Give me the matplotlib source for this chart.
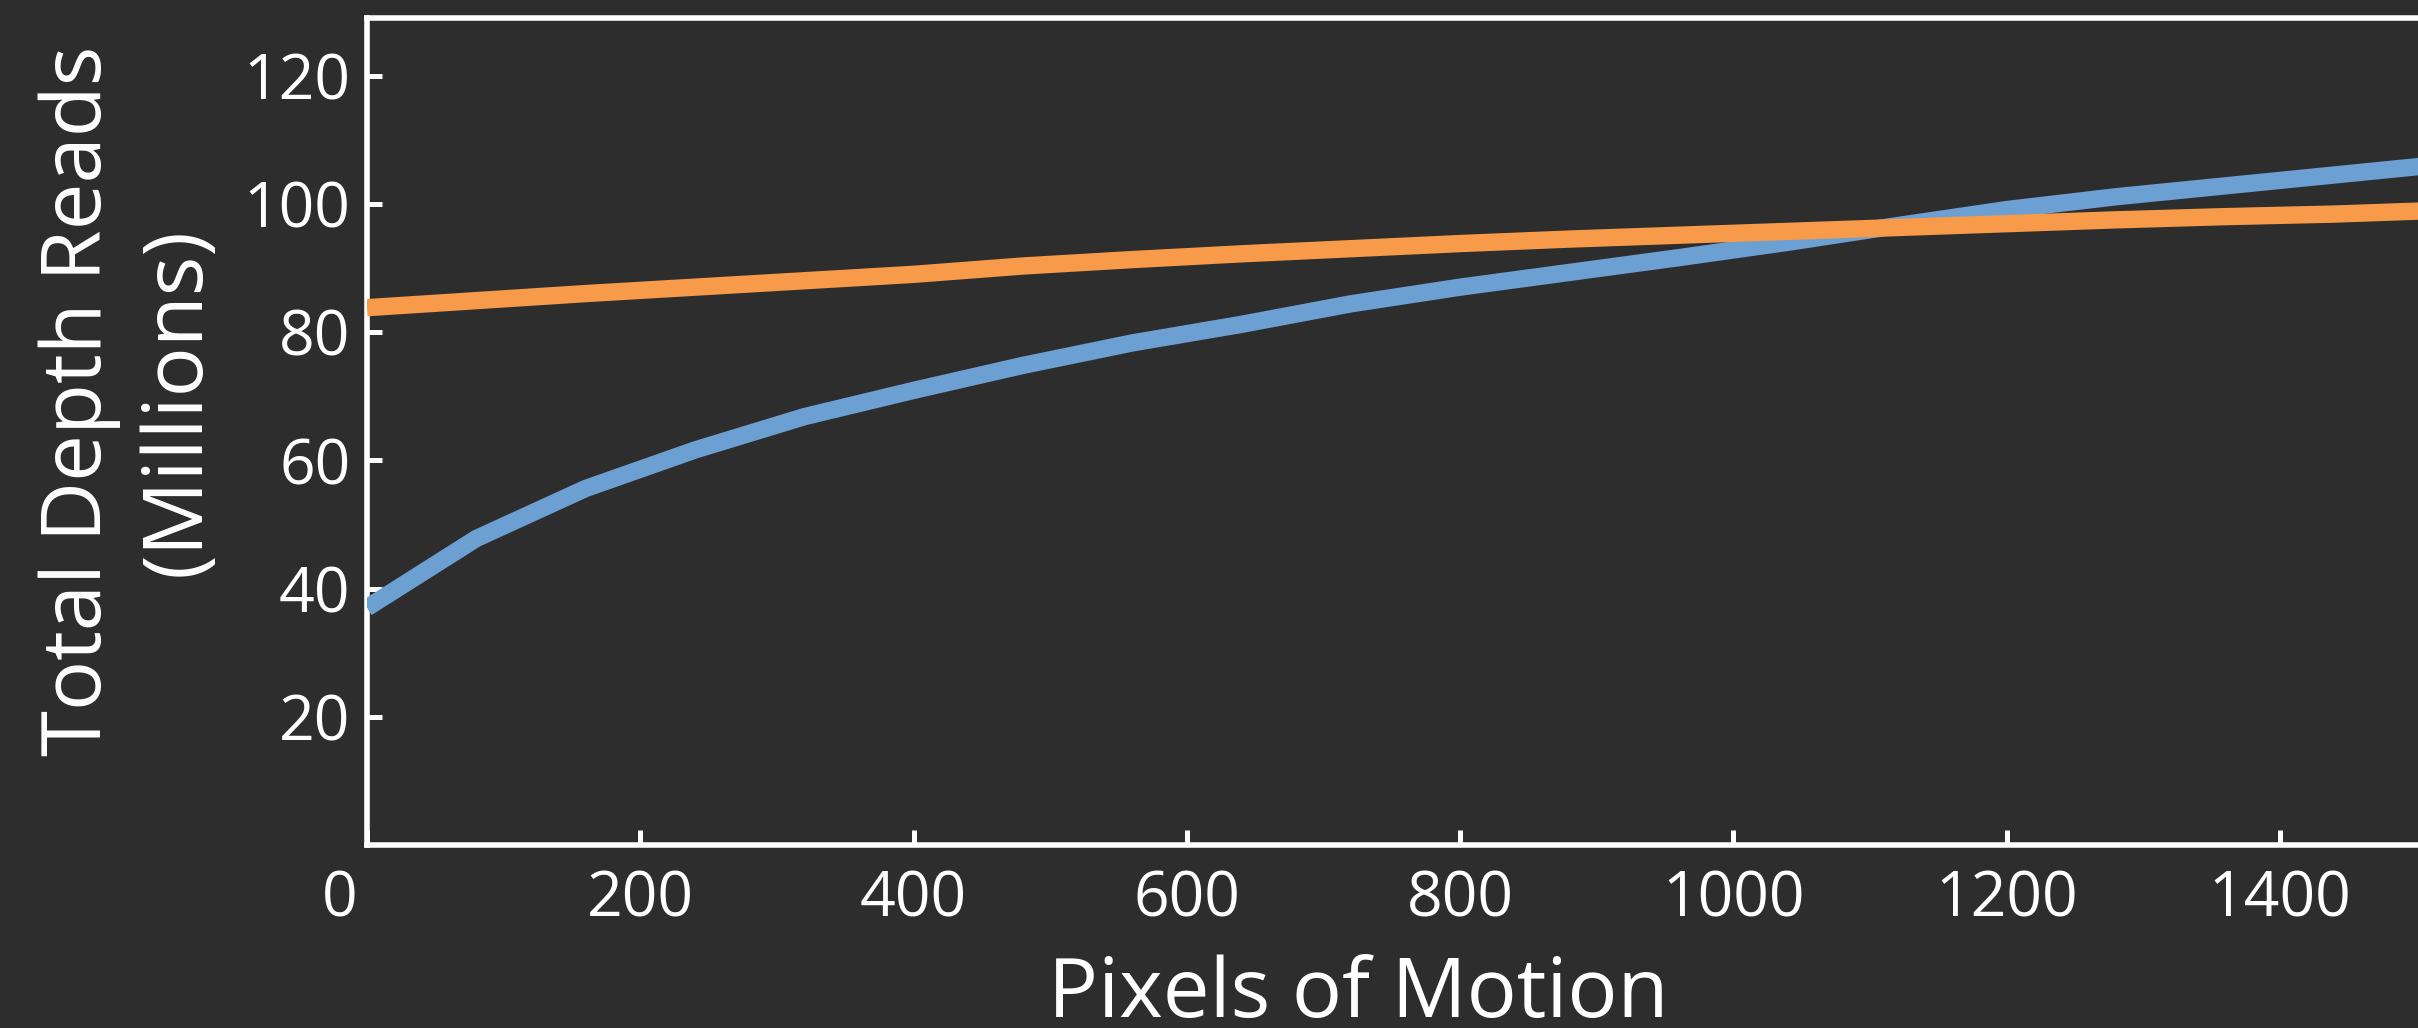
import matplotlib
matplotlib.use("Agg")
import matplotlib.pyplot as plt
from matplotlib.transforms import ScaledTranslation

# data
motion_px = [0, 80, 160, 240, 320, 400, 480, 560, 640, 720, 800, 880, 960,
             1040, 1120, 1200, 1280, 1360, 1440, 1520]
reads_blue = [37.0, 47.8, 55.6, 61.6, 66.8, 70.9, 74.8, 78.3, 81.2, 84.4, 87.0,
              89.3, 91.6, 94.0, 96.6, 99.1, 101.1, 102.8, 104.5, 106.2]
reads_orange = [83.8, 84.9, 86.0, 87.0, 88.0, 89.0, 90.3, 91.3, 92.2, 93.0, 93.8,
                94.5, 95.1, 95.7, 96.3, 96.9, 97.5, 98.0, 98.4, 99.0]
x_ticks = [0, 200, 400, 600, 800, 1000, 1200, 1400]
y_ticks = [20, 40, 60, 80, 100, 120]

BG = "#2d2d2d"
FG = "#ffffff"
BLUE = "#6c9fd2"
ORANGE = "#f79b4a"

plt.rcParams["font.family"] = ["Open Sans", "DejaVu Sans"]

fig = plt.figure(figsize=(24.18, 10.28), dpi=100, facecolor=BG)
W, H = 2418, 1028
ax = fig.add_axes([367 / W, (H - 845) / H, 1 - 367 / W, (845 - 18.5) / H])
ax.set_facecolor(BG)

ax.plot(motion_px, reads_blue, color=BLUE, lw=12.5, solid_capstyle="butt",
        solid_joinstyle="miter", zorder=3)
ax.plot(motion_px, reads_orange, color=ORANGE, lw=12.5, solid_capstyle="butt",
        solid_joinstyle="miter", zorder=4)

ax.set_xlim(0, 1501)
ax.set_ylim(0, 128.9)
ax.set_xticks(x_ticks)
ax.set_yticks(y_ticks)

for side in ["left", "bottom", "top"]:
    ax.spines[side].set_color(FG)
    ax.spines[side].set_linewidth(4)
ax.spines["right"].set_visible(False)

ax.tick_params(axis="both", direction="in", length=11, width=3.6, color=FG,
               labelcolor=FG, labelsize=45)
ax.tick_params(axis="y", pad=12)
ax.tick_params(axis="x", pad=17)

# the "0" label sits a bit left of its tick in the original
lbl0 = ax.get_xticklabels()[0]
lbl0.set_transform(lbl0.get_transform() + ScaledTranslation(-27 / 100, 0, fig.dpi_scale_trans))

ax.set_xlabel("Pixels of Motion", fontsize=60, color=FG, va="baseline")
ax.xaxis.set_label_coords((1358 - 367) / (W - 367), -0.2085)

fig.text(129 / W, (H - 401) / H, "Total Depth Reads\n(Millions)", rotation=90,
         ha="center", va="center", multialignment="center", fontsize=60,
         color=FG, linespacing=1.27)

fig.savefig("out.png", dpi=100, facecolor=BG)
